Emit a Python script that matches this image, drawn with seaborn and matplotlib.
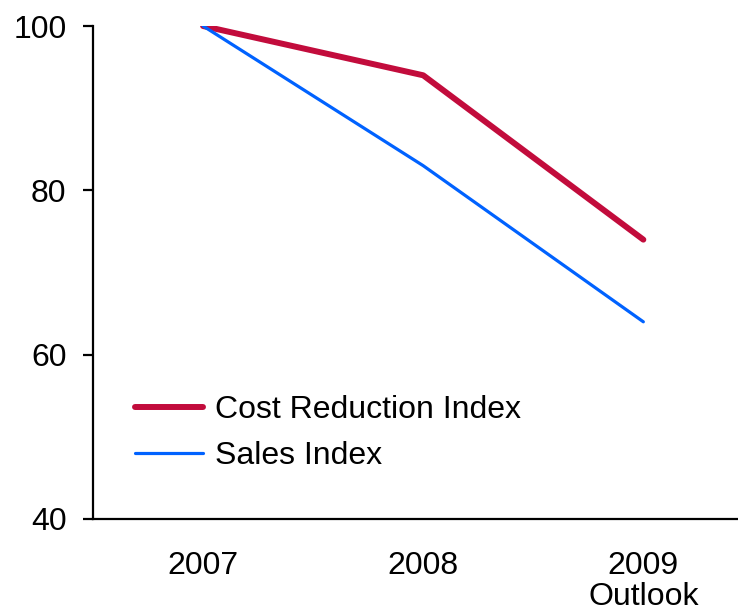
import matplotlib
matplotlib.use("Agg")
import matplotlib.pyplot as plt
import seaborn as sns
import pandas as pd

years = ["2007", "2008", "2009\nOutlook"]
cost_reduction = [100, 94, 74]
sales = [100, 83, 64]
series_names = ["Cost Reduction Index", "Sales Index"]
yticks = [40, 60, 80, 100]

sns.set_style("white")
plt.rcParams["font.family"] = ["Liberation Sans", "DejaVu Sans"]
plt.rcParams["text.color"] = "black"
plt.rcParams["xtick.color"] = "black"
plt.rcParams["ytick.color"] = "black"
plt.rcParams["xtick.labelcolor"] = "black"
plt.rcParams["ytick.labelcolor"] = "black"

fig = plt.figure(figsize=(7.38, 6.12), dpi=100)
ax = fig.add_axes([93 / 738, 1 - 519 / 612, (738 - 93) / 738, (519 - 26) / 612])

pos = list(range(len(years)))
df_cost = pd.DataFrame({"x": pos, "value": cost_reduction})
df_sales = pd.DataFrame({"x": pos, "value": sales})

sns.lineplot(data=df_cost, x="x", y="value", ax=ax, color="#C20C3C",
             linewidth=4.3, label=series_names[0], solid_capstyle="round")
sns.lineplot(data=df_sales, x="x", y="value", ax=ax, color="#0062FF",
             linewidth=2.3, label=series_names[1], solid_capstyle="round")

ax.set_xlim(-0.5, 2.43)
ax.set_ylim(40, 100)
ax.set_yticks(yticks)
ax.set_xticks(pos)
ax.set_xticklabels(years)
ax.set_xlabel("")
ax.set_ylabel("")

for side in ["top", "right"]:
    ax.spines[side].set_visible(False)
for side in ["left", "bottom"]:
    ax.spines[side].set_color("black")
    ax.spines[side].set_linewidth(1.6)

ax.tick_params(axis="y", which="major", direction="out", length=7, width=1.6,
               color="black", labelsize=23, pad=12, left=True)
ax.tick_params(axis="x", which="major", length=0, labelsize=23, pad=23)
for lbl in ax.get_xticklabels():
    lbl.set_linespacing(1.03)

leg = ax.legend(loc="upper left", bbox_to_anchor=(0.046, 0.278), frameon=False,
                fontsize=23, handlelength=2.1, handletextpad=0.38,
                labelspacing=0.52, borderaxespad=0)

fig.savefig("out.png", dpi=100)
